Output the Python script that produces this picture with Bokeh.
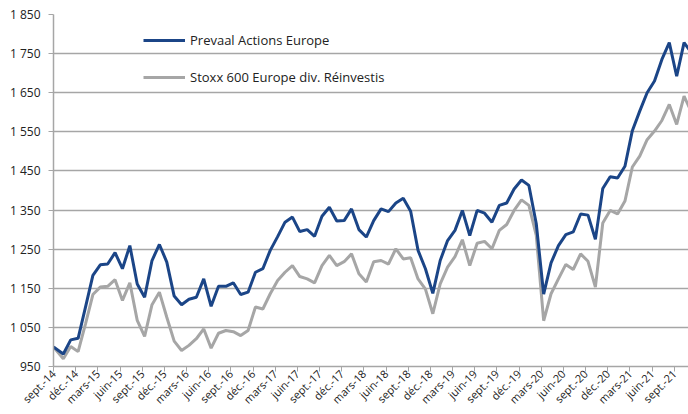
from math import pi
from bokeh.plotting import figure
from bokeh.models import FixedTicker, Range1d, Legend, LegendItem
from bokeh.embed import file_html
from bokeh.resources import INLINE

# ---- data ----
prevaal = [1000, 982, 1018, 1022, 1102, 1183, 1210, 1212, 1241, 1200, 1259, 1161, 1127, 1221, 1262,
           1217, 1130, 1108, 1122, 1127, 1174, 1104, 1155, 1155, 1164, 1134, 1140, 1191, 1200, 1247,
           1282, 1319, 1332, 1295, 1300, 1283, 1334, 1357, 1322, 1323, 1353, 1300, 1281, 1323, 1353,
           1346, 1368, 1380, 1347, 1247, 1200, 1137, 1221, 1272, 1298, 1349, 1285, 1349, 1342, 1319,
           1362, 1368, 1404, 1427, 1413, 1315, 1135, 1215, 1259, 1287, 1294, 1340, 1337, 1275, 1405,
           1435, 1432, 1462, 1553, 1603, 1650, 1680, 1735, 1778, 1692, 1778, 1752]
stoxx = [1000, 970, 1001, 988, 1059, 1134, 1153, 1155, 1172, 1119, 1164, 1068, 1027, 1108, 1140,
         1076, 1015, 991, 1004, 1021, 1046, 997, 1035, 1042, 1039, 1029, 1042, 1102, 1097, 1136,
         1170, 1191, 1208, 1180, 1174, 1164, 1208, 1234, 1208, 1218, 1238, 1187, 1166, 1218, 1221,
         1212, 1251, 1225, 1228, 1174, 1148, 1085, 1161, 1204, 1231, 1274, 1208, 1265, 1270, 1251,
         1298, 1313, 1349, 1376, 1362, 1285, 1067, 1136, 1174, 1211, 1198, 1238, 1219, 1153, 1317,
         1349, 1340, 1373, 1460, 1488, 1530, 1552, 1579, 1620, 1569, 1641, 1600]
month_labels = ["sept.-14", "déc.-14", "mars-15", "juin-15", "sept.-15", "déc.-15", "mars-16",
                "juin-16", "sept.-16", "déc.-16", "mars-17", "juin-17", "sept.-17", "déc.-17",
                "mars-18", "juin-18", "sept.-18", "déc.-18", "mars-19", "juin-19", "sept.-19",
                "déc.-19", "mars-20", "juin-20", "sept.-20", "déc.-20", "mars-21", "juin-21",
                "sept.-21"]
y_ticks = [950, 1050, 1150, 1250, 1350, 1450, 1550, 1650, 1750, 1850]
y_tick_labels = ["950", "1 050", "1 150", "1 250", "1 350", "1 450", "1 550", "1 650", "1 750", "1 850"]
series_names = ["Prevaal Actions Europe", "Stoxx 600 Europe div. Réinvestis"]

# month index of each observation (first = base point, then month-end values)
x_pos = [0.0] + [k + 0.33 for k in range(1, len(prevaal))]
x_ticks = [3 * i for i in range(len(month_labels))]

BLUE = "#1b4587"
GREY = "#a6a6a6"
GRID = "#a6a6a6"
FONT = "Open Sans"

p = figure(width=688, height=414, output_backend="svg", toolbar_location=None,
           x_range=Range1d(0, 85.93), y_range=Range1d(950, 1850),
           min_border_left=53, min_border_right=0, min_border_top=14, min_border_bottom=48)
p.outline_line_color = None
p.background_fill_color = "white"

r1 = p.line(x_pos, prevaal, line_color=BLUE, line_width=3)
r2 = p.line(x_pos, stoxx, line_color=GREY, line_width=3)
p.renderers = [r2, r1]

# axes
p.xaxis.ticker = FixedTicker(ticks=x_ticks)
p.xaxis.major_label_overrides = {t: l for t, l in zip(x_ticks, month_labels)}
p.xaxis.major_label_orientation = pi / 4
p.xaxis.minor_tick_line_color = None
p.xaxis.major_tick_in = 0
p.xaxis.major_tick_out = 5
p.xaxis.axis_line_color = GRID
p.xaxis.axis_line_width = 1.5
p.xaxis.major_tick_line_color = GRID
p.xaxis.major_label_text_font = FONT
p.xaxis.major_label_text_font_size = "11px"
p.xaxis.major_label_text_color = "#222222"
p.xaxis.major_label_standoff = 0

p.yaxis.ticker = FixedTicker(ticks=y_ticks)
p.yaxis.major_label_overrides = {t: l for t, l in zip(y_ticks, y_tick_labels)}
p.yaxis.minor_tick_line_color = None
p.yaxis.major_tick_in = 0
p.yaxis.major_tick_out = 5
p.yaxis.axis_line_color = GRID
p.yaxis.axis_line_width = 1.5
p.yaxis.major_tick_line_color = GRID
p.yaxis.major_label_text_font = FONT
p.yaxis.major_label_text_font_size = "12px"
p.yaxis.major_label_text_color = "#222222"
p.yaxis.major_label_standoff = 8

p.xgrid.grid_line_color = None
p.ygrid.grid_line_color = GRID
p.ygrid.grid_line_width = 1.5

legend = Legend(items=[LegendItem(label=series_names[0], renderers=[r1]),
                       LegendItem(label=series_names[1], renderers=[r2])],
                location=(80, 269), orientation="vertical",
                glyph_width=42, glyph_height=20, label_height=20, label_standoff=5,
                spacing=17, padding=10, margin=0,
                background_fill_alpha=0, border_line_alpha=0,
                label_text_font=FONT, label_text_font_size="13px", label_text_color="#222222")
p.add_layout(legend, "center")

open("out.html", "w").write(file_html(p, INLINE))
